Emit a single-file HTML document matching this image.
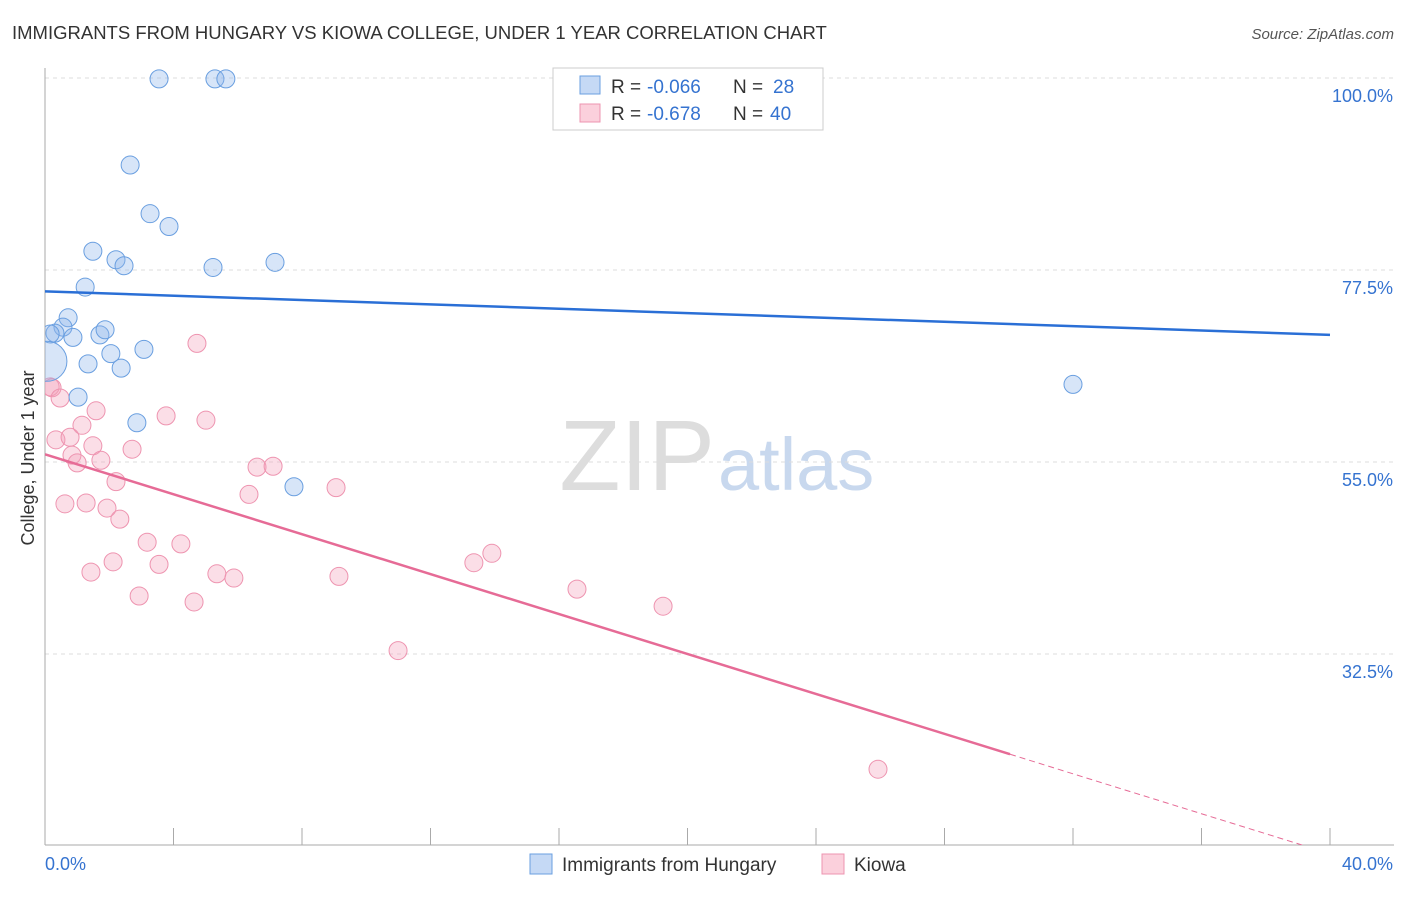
<!DOCTYPE html>
<html><head><meta charset="utf-8"><style>
body{margin:0;background:#fff;font-family:"Liberation Sans",sans-serif}
svg text{font-family:"Liberation Sans",sans-serif}
</style></head><body>
<svg id="c" width="1406" height="892" xmlns="http://www.w3.org/2000/svg">
<defs><clipPath id="plot"><rect x="45" y="60" width="1350" height="785"/></clipPath></defs>
<text x="12" y="39" font-size="18.5" fill="#333">IMMIGRANTS FROM HUNGARY VS KIOWA COLLEGE, UNDER 1 YEAR CORRELATION CHART</text>
<text x="1394" y="39" font-size="15" fill="#555" font-style="italic" text-anchor="end">Source: ZipAtlas.com</text>
<text x="715" y="490" font-size="100" fill="#ddd" text-anchor="end" font-family="Liberation Serif">ZIP</text>
<text x="718" y="490" font-size="74" fill="#c8d8ee">atlas</text>
<text transform="translate(34,458) rotate(-90)" font-size="18" fill="#333" text-anchor="middle">College, Under 1 year</text>
<g id="grid"></g><g id="pts" clip-path="url(#plot)"></g><g id="lines" clip-path="url(#plot)"></g>
<g>
<rect x="553" y="68" width="270" height="62" fill="#fff" stroke="#ccc"/>
<rect x="580" y="76" width="20" height="18" fill="#c5d9f5" stroke="#6a9fe0"/>
<rect x="580" y="104" width="20" height="18" fill="#fbd0dc" stroke="#ee94b0"/>
<text x="611" y="93" font-size="19" fill="#333">R = <tspan x="647" fill="#3573d0">-0.066</tspan><tspan x="733">N = </tspan><tspan x="773" fill="#3573d0">28</tspan></text>
<text x="611" y="120" font-size="19" fill="#333">R = <tspan x="647" fill="#3573d0">-0.678</tspan><tspan x="733">N = </tspan><tspan x="770" fill="#3573d0">40</tspan></text>
</g>
<g>
<rect x="530" y="854" width="22" height="20" fill="#c5d9f5" stroke="#6a9fe0"/>
<text x="562" y="871" font-size="19" fill="#333">Immigrants from Hungary</text>
<rect x="822" y="854" width="22" height="20" fill="#fbd0dc" stroke="#ee94b0"/>
<text x="854" y="871" font-size="19" fill="#333">Kiowa</text>
</g>
</svg>
<script>
const yTicks=[100,77.5,55,32.5];
const xLabels=["0.0%","40.0%"];
const blueX=[3.55,5.29,5.63,2.65,3.27,3.86,1.49,2.21,2.46,5.23,7.16,1.25,0.72,0.56,0.31,0.87,1.71,1.87,2.05,3.08,1.34,2.37,1.03,2.86,7.75,32.0,0.16];
const blueY=[99.9,99.9,99.9,89.8,84.1,82.6,79.7,78.7,78.0,77.8,78.4,75.5,71.9,70.8,70.1,69.6,69.9,70.5,67.7,68.2,66.5,66.0,62.6,59.6,52.1,64.1,70.0];
const pinkX=[0.16,0.22,0.47,1.59,3.77,5.01,1.15,0.34,0.78,1.49,2.71,0.84,1.74,1.00,6.60,7.10,2.21,6.35,9.06,0.62,1.28,1.93,2.33,3.18,4.23,2.12,3.55,1.43,5.35,5.88,9.15,13.35,13.91,2.93,4.64,16.56,19.24,10.99,25.93,4.73];
const pinkY=[63.8,63.7,62.5,61.0,60.4,59.9,59.3,57.6,57.9,56.9,56.5,55.8,55.2,54.9,54.4,54.5,52.7,51.2,52.0,50.1,50.2,49.6,48.3,45.6,45.4,43.3,43.0,42.1,41.9,41.4,41.6,43.2,44.3,39.3,38.6,40.1,38.1,32.9,19.0,68.9];
const blueTrend=[75.0,69.9];
const pinkTrend=[55.9,9.1];
const NS="http://www.w3.org/2000/svg";
const X=v=>45+v*1285/40, Y=v=>78+(100-v)*192/22.5;
function mk(t,a,p){const e=document.createElementNS(NS,t);for(const k in a)e.setAttribute(k,a[k]);p.appendChild(e);return e;}
const grid=document.getElementById('grid');
yTicks.forEach(t=>{
 const l=mk('line',{x1:45,x2:1394,y1:Y(t),y2:Y(t),stroke:'#ddd','stroke-dasharray':'4,4'},grid);
 
 
 const tx=mk('text',{x:1393,y:Y(t)+24,'font-size':18,fill:'#3573d0','text-anchor':'end'},grid);
 tx.textContent=t.toFixed(1)+'%';
 
 
});
mk('line',{x1:45,x2:45,y1:68,y2:845,stroke:'#aaa'},grid);
mk('line',{x1:45,x2:1394,y1:845,y2:845,stroke:'#aaa'},grid);
for(let i=1;i<=10;i++){mk('line',{x1:X(i*4),x2:X(i*4),y1:828,y2:845,stroke:'#aaa'},grid);}
const xl0=mk('text',{x:45,y:870,'font-size':18,fill:'#3573d0'},grid);xl0.textContent=xLabels[0];


const xl1=mk('text',{x:1393,y:870,'font-size':18,fill:'#3573d0','text-anchor':'end'},grid);xl1.textContent=xLabels[1];


const pts=document.getElementById('pts');
pinkX.forEach((x,i)=>{const c=mk('circle',{cx:X(x),cy:Y(pinkY[i]),r:9,fill:'rgba(244,160,185,0.35)',stroke:'#ee94b0','stroke-width':1},pts);
 
 });
blueX.forEach((x,i)=>{const c=mk('circle',{cx:X(x),cy:Y(blueY[i]),r:9,fill:'rgba(140,180,235,0.35)',stroke:'#6a9fe0','stroke-width':1},pts);
 
 });
const big=mk('circle',{cx:X(0.06),cy:Y(66.8),r:20,fill:'rgba(140,180,235,0.35)',stroke:'#6a9fe0'},pts);


const ln=document.getElementById('lines');
const bl=mk('line',{x1:X(0),y1:Y(blueTrend[0]),x2:X(40),y2:Y(blueTrend[1]),stroke:'#2a6fd6','stroke-width':2.5},ln);


const py=x=>pinkTrend[0]+(pinkTrend[1]-pinkTrend[0])*x/40;
const pl=mk('line',{x1:X(0),y1:Y(py(0)),x2:X(30.04),y2:Y(py(30.04)),stroke:'#e66b96','stroke-width':2.5},ln);


const pd=mk('line',{x1:X(30.04),y1:Y(py(30.04)),x2:X(40),y2:Y(py(40)),stroke:'#e66b96','stroke-width':1,'stroke-dasharray':'6,4'},ln);


</script>
</body></html>
